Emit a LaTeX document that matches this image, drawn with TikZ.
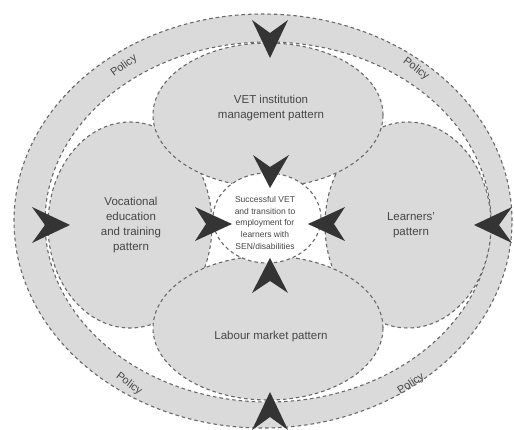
\documentclass[tikz,border=0pt]{standalone}
\usepackage{fontspec}
\setmainfont{Liberation Sans}
\definecolor{fillg}{RGB}{218,218,218}
\definecolor{lineg}{RGB}{105,105,105}
\definecolor{dartc}{RGB}{52,52,52}
\definecolor{textc}{RGB}{70,70,70}
\begin{document}
\begin{tikzpicture}[x=1pt,y=-1pt,
  dline/.style={draw=lineg, line width=1.1pt, dash pattern=on 3.5pt off 3pt},
  gshape/.style={dline, fill=fillg},
  wshape/.style={dline, fill=white},
  dart/.style={fill=dartc},
  lbl/.style={text=textc, font=\fontsize{11.5}{15}\selectfont, align=center, inner sep=0},
  clbl/.style={text=textc, font=\fontsize{8.5}{11.7}\selectfont, align=center, inner sep=0},
  pol/.style={text=textc, font=\fontsize{11}{13}\selectfont, inner sep=0}]
\useasboundingbox (0,0) rectangle (514,430);
\fill[white] (0,0) rectangle (514,430);
% policy band
\path[gshape] (263,221) ellipse [x radius=249pt, y radius=207pt];
\path[wshape] (268,222) ellipse [x radius=223pt, y radius=180pt];
% side patterns
\path[gshape] (130,225) ellipse [x radius=82pt, y radius=103pt];
\path[gshape] (408,225) ellipse [x radius=83pt, y radius=103pt];
% top and bottom patterns
\path[gshape] (268,115) ellipse [x radius=115pt, y radius=72pt];
\path[gshape] (268,328) ellipse [x radius=115pt, y radius=72pt];
% centre
\path[wshape] (267,218) ellipse [x radius=54pt, y radius=45pt];
% outer darts
\fill[dart] (270,58) -- (252,20) -- (270,33) -- (288,20) -- cycle;
\fill[dart] (270,392) -- (252,430) -- (270,417) -- (288,430) -- cycle;
\fill[dart] (70,225) -- (32,207) -- (45,225) -- (32,243) -- cycle;
\fill[dart] (474,225) -- (512,207) -- (499,225) -- (512,243) -- cycle;
% inner darts
\fill[dart] (270,188) -- (253,155) -- (270,167) -- (289,155) -- cycle;
\fill[dart] (270,258) -- (252,293) -- (270,281) -- (288,293) -- cycle;
\fill[dart] (232,224) -- (195,207) -- (206,224) -- (195,241) -- cycle;
\fill[dart] (308,224) -- (345,207) -- (334,224) -- (345,241) -- cycle;
% labels
\node[lbl] (vet) at (271,108) {VET institution\\management pattern};
\node[lbl] (voc) at (131,225) {Vocational\\education\\and training\\pattern};
\node[lbl] (lea) at (411,225) {Learners’\\pattern};
\node[lbl] (lab) at (271,337) {Labour market pattern};
\node[clbl] (suc) at (265,222.7) {Successful VET\\and transition to\\employment for\\learners with\\SEN/disabilities};
\node[pol, rotate=36] (p1) at (124,66) {Policy};
\node[pol, rotate=-37] (p2) at (416,69) {Policy};
\node[pol, rotate=-37] (p3) at (129,384) {Policy};
\node[pol, rotate=33] (p4) at (411,384) {Policy};
\end{tikzpicture}
\end{document}
